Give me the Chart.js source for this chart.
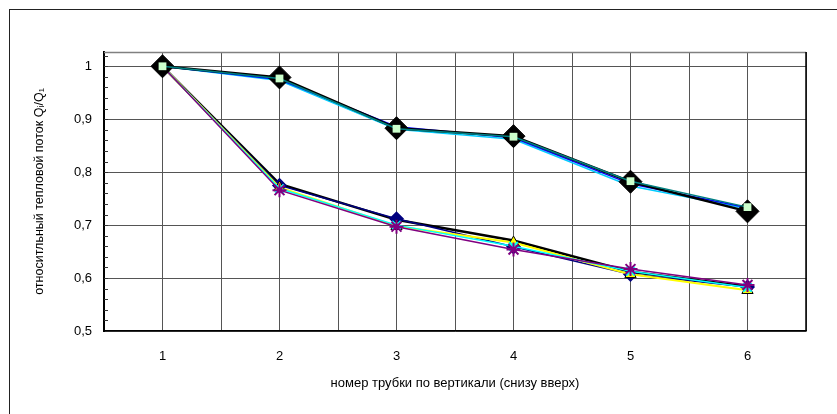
<!DOCTYPE html>
<html lang="ru">
<head>
  <meta charset="UTF-8" />
  <title>относительный тепловой поток</title>
  <script src="https://cdn.jsdelivr.net/npm/chart.js"></script>
  <style>
    html, body { margin: 0; padding: 0; background: #fff; }
    .wrap { position: relative; width: 837px; height: 414px; }
    .frame {
      position: absolute; left: 9px; top: 9px; right: 0; bottom: 0;
      border-left: 1.5px solid #222; border-top: 1.5px solid #222;
      pointer-events: none;
    }
    canvas { position: absolute; left: 0; top: 0; }
  </style>
</head>
<body>
  <div class="wrap">
    <canvas id="myChart" width="837" height="414"></canvas>
    <div class="frame"></div>
  </div>

  <script>
    // номера трубок (ось X)
    const tubes = [1, 2, 3, 4, 5, 6];
    const xTicks = [0.5, 1, 1.5, 2, 2.5, 3, 3.5, 4, 4.5, 5, 5.5, 6, 6.5];
    const yTicks = [0.5, 0.6, 0.7, 0.8, 0.9, 1];

    // верхняя группа кривых
    const seriesDiamondBig = [1, 0.979, 0.883, 0.868, 0.782, 0.726];
    const seriesSquare     = [1, 0.977, 0.882, 0.867, 0.783, 0.734];
    const seriesBlue       = [1, 0.975, 0.886, 0.865, 0.778, 0.733];
    const seriesCyan       = [1, 0.973, 0.881, 0.862, 0.774, 0.731];

    // нижняя группа кривых
    const seriesNavy   = [1, 0.775, 0.712, 0.659, 0.607, 0.583];
    const seriesBlack  = [1, 0.778, 0.710, 0.671, 0.612, 0.584];
    const seriesYellow = [1, 0.771, 0.698, 0.667, 0.607, 0.577];
    const seriesCyanX  = [1, 0.769, 0.700, 0.660, 0.613, 0.582];
    const seriesPurple = [1, 0.766, 0.697, 0.654, 0.617, 0.587];

    const FONT = "'Liberation Sans', Arial, sans-serif";

    function mk(label, values, color, extra) {
      return Object.assign({
        label: label,
        data: values.map((v, i) => ({ x: tubes[i], y: v })),
        borderColor: color,
        backgroundColor: color,
        borderWidth: 1.5,
        pointRadius: 0,
        tension: 0,
        fill: false
      }, extra || {});
    }

    // первый набор рисуется поверх остальных
    const datasets = [
      mk('s1', seriesSquare, '#008080', { pointStyle: 'rect', pointRadius: 5.5, pointBackgroundColor: '#ccffcc', pointBorderColor: '#ccffcc', pointBorderWidth: 0 }),
      mk('s2', seriesDiamondBig, '#000000', { borderWidth: 2.5, pointStyle: 'rectRot', pointRadius: 11.5, pointBackgroundColor: '#000', pointBorderColor: '#000', pointBorderWidth: 1 }),
      mk('s3', seriesBlue, '#0000ff'),
      mk('s4', seriesCyan, '#00ccff'),
      mk('s5', seriesPurple, '#800080', { pointStyle: 'star', pointRadius: 7, pointBorderColor: '#800080', pointBorderWidth: 2 }),
      mk('s6', seriesCyanX, '#00ffff', { pointStyle: 'crossRot', pointRadius: 6, pointBorderColor: '#00ffff', pointBorderWidth: 2 }),
      mk('s7', seriesYellow, '#ffff00', { borderWidth: 2, pointStyle: 'triangle', pointRadius: 6.5, pointBackgroundColor: '#ffff00', pointBorderColor: '#000', pointBorderWidth: 1 }),
      mk('s8', seriesNavy, '#000080', { pointStyle: 'rectRot', pointRadius: 6.5, pointBackgroundColor: '#000080', pointBorderColor: '#000080' }),
      mk('s9', seriesBlack, '#000000', { borderWidth: 2.5 })
    ];

    // рамка области построения и мелкие деления на оси Y
    const plotFrame = {
      id: 'plotFrame',
      beforeDatasetsDraw(chart) {
        const { ctx, chartArea: a, scales } = chart;
        ctx.save();
        ctx.lineWidth = 1.5;
        ctx.strokeStyle = '#808080';
        ctx.beginPath();
        ctx.moveTo(a.left, a.top + 0.5);
        ctx.lineTo(a.right, a.top + 0.5);
        ctx.stroke();
        ctx.strokeStyle = '#000';
        ctx.beginPath();
        ctx.moveTo(a.right, a.top);
        ctx.lineTo(a.right, a.bottom);
        ctx.stroke();
        ctx.lineWidth = 1;
        ctx.strokeStyle = '#333';
        const y = scales.y;
        for (let v = 0.52; v < y.max; v += 0.02) {
          const py = Math.round(y.getPixelForValue(v)) + 0.5;
          ctx.beginPath();
          ctx.moveTo(a.left, py);
          ctx.lineTo(a.left + 4, py);
          ctx.stroke();
        }
        ctx.restore();
      }
    };

    const ctx = document.getElementById('myChart').getContext('2d');
    const chart = new Chart(ctx, {
      type: 'line',
      data: { datasets: datasets },
      plugins: [plotFrame],
      options: {
        responsive: false,
        animation: false,
        layout: { padding: { left: 10, top: 52, right: 31, bottom: 0 } },
        plugins: {
          legend: { display: false },
          tooltip: { enabled: false }
        },
        scales: {
          x: {
            type: 'linear',
            min: 0.5,
            max: 6.5,
            afterBuildTicks: s => { s.ticks = xTicks.map(v => ({ value: v })); },
            afterFit: s => { s.height = 83; },
            ticks: {
              color: '#000',
              padding: 18,
              maxRotation: 0,
              autoSkip: false,
              font: { family: FONT, size: 13 },
              callback: v => (Number.isInteger(v) ? String(v) : '')
            },
            grid: { color: '#555', lineWidth: 1, drawTicks: false },
            border: { color: '#000', width: 1.5 },
            title: {
              display: true,
              text: 'номер трубки по вертикали (снизу вверх)',
              color: '#000',
              font: { family: FONT, size: 13 },
              padding: { top: 0, bottom: 23 }
            }
          },
          y: {
            min: 0.5,
            max: 1.027,
            afterBuildTicks: s => { s.ticks = yTicks.map(v => ({ value: v })); },
            afterFit: s => { s.width = 94; },
            ticks: {
              color: '#000',
              padding: 12,
              font: { family: FONT, size: 13 },
              callback: v => String(v).replace('.', ',')
            },
            grid: { color: '#555', lineWidth: 1, drawTicks: false },
            border: { color: '#000', width: 2 },
            title: {
              display: true,
              text: 'относитльный тепловой поток Qᵢ/Q₁',
              color: '#000',
              font: { family: FONT, size: 12.5 },
              padding: { top: 22, bottom: 0 }
            }
          }
        }
      }
    });
  </script>
</body>
</html>
